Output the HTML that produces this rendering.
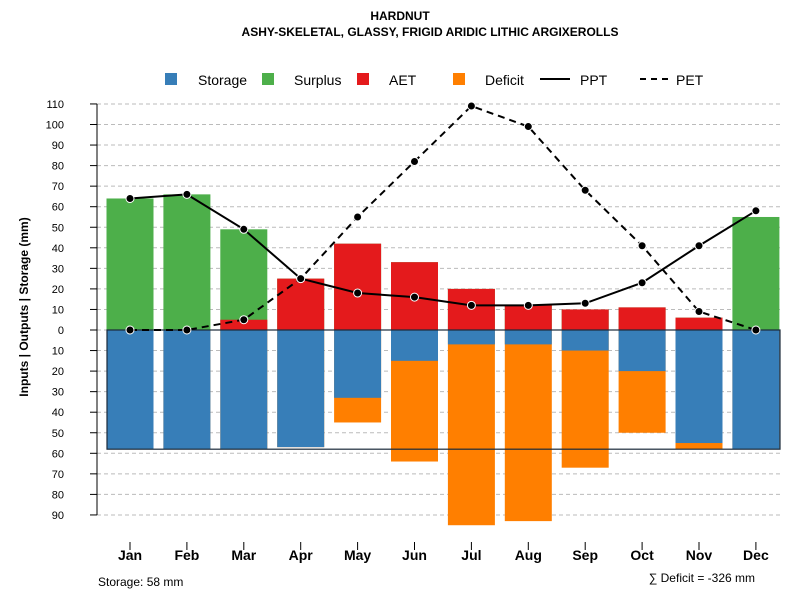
<!DOCTYPE html>
<html><head><meta charset="utf-8"><style>
body{margin:0;background:#fff}
svg{font-family:"Liberation Sans",sans-serif}
</style></head><body>
<svg id="c" width="800" height="600" xmlns="http://www.w3.org/2000/svg">
<text x="400" y="20" text-anchor="middle" font-size="12" font-weight="bold">HARDNUT</text>
<text x="430" y="36" text-anchor="middle" font-size="12" font-weight="bold">ASHY-SKELETAL, GLASSY, FRIGID ARIDIC LITHIC ARGIXEROLLS</text>
<g id="legend">
<rect x="165" y="73" width="12" height="12" fill="#377eb8"/>
<text x="198" y="85" font-size="14">Storage</text>
<rect x="262" y="73" width="12" height="12" fill="#4daf4a"/>
<text x="294" y="85" font-size="14">Surplus</text>
<rect x="357" y="73" width="12" height="12" fill="#e41a1c"/>
<text x="389" y="85" font-size="14">AET</text>
<rect x="453" y="73" width="12" height="12" fill="#ff7f00"/>
<text x="485" y="85" font-size="14">Deficit</text>
<line x1="540" y1="79" x2="570" y2="79" stroke="#000" stroke-width="2"/>
<text x="580" y="85" font-size="14">PPT</text>
<line x1="640" y1="79" x2="670" y2="79" stroke="#000" stroke-width="2" stroke-dasharray="6,5"/>
<text x="676" y="85" font-size="14">PET</text>
</g>
<text transform="translate(28,307) rotate(-90)" text-anchor="middle" font-size="12" font-weight="bold">Inputs | Outputs | Storage    (mm)</text>
<text x="98" y="586" font-size="12">Storage: 58 mm</text>
<text x="755" y="582" text-anchor="end" font-size="12">∑ Deficit = -326 mm</text>
<g id="plot"></g>
</svg>
<script>
const months=["Jan","Feb","Mar","Apr","May","Jun","Jul","Aug","Sep","Oct","Nov","Dec"];
const storage=[58,58,58,57,33,15,7,7,10,20,55,58];
const deficitBottom=[58,58,58,57,45,64,95,93,67,50,58,58];
const aet=[0,0,5,25,42,33,20,12,10,11,6,0];
const surplusTop=[64,66,49,25,42,33,20,12,10,11,6,55];
const ppt=[64,66,49,25,18,16,12,12,13,23,41,58];
const pet=[0,0,5,25,55,82,109,99,68,41,9,0];
const yTicks=[110,100,90,80,70,60,50,40,30,20,10,0,-10,-20,-30,-40,-50,-60,-70,-80,-90];
const NS="http://www.w3.org/2000/svg";
const g=document.getElementById('plot');
const y=v=>330-v*2.055;
const x=i=>130+i*56.9;
const bw=47;
function mk(t,a){const e=document.createElementNS(NS,t);for(const k in a)e.setAttribute(k,a[k]);g.appendChild(e);return e;}
yTicks.forEach(v=>{
 const l=mk('line',{x1:97,x2:780,y1:y(v),y2:y(v),stroke:'#bbb','stroke-dasharray':'4,3'});
 
 
 const t=mk('line',{x1:90,x2:97,y1:y(v),y2:y(v),stroke:'#000'});
 
 
 const tx=mk('text',{x:64,y:y(v)+4,'text-anchor':'end','font-size':11});
 tx.textContent=Math.abs(v);
 
 
});
const ax=mk('line',{x1:97,x2:97,y1:y(110),y2:y(-90),stroke:'#000'});


months.forEach((m,i)=>{
 const cx=x(i),l=cx-bw/2;
 const r1=mk('rect',{x:l,y:y(surplusTop[i]),width:bw,height:y(0)-y(surplusTop[i]),fill:'#4daf4a'});
 
 
 const r2=mk('rect',{x:l,y:y(aet[i]),width:bw,height:y(0)-y(aet[i]),fill:'#e41a1c'});
 
 
 const r3=mk('rect',{x:l,y:y(0),width:bw,height:y(-deficitBottom[i])-y(0),fill:'#ff7f00'});
 
 
 const r4=mk('rect',{x:l,y:y(0),width:bw,height:y(-storage[i])-y(0),fill:'#377eb8'});
 
 
 const tk=mk('line',{x1:cx,x2:cx,y1:542,y2:550,stroke:'#000'});
 
 
 const tl=mk('text',{x:cx,y:560,'text-anchor':'middle','font-size':14,'font-weight':'bold'});
 tl.textContent=m;
 
 
});
const box=mk('rect',{x:107,y:y(0),width:673,height:y(-58)-y(0),fill:'none',stroke:'#1a2a3a','stroke-width':1.2});


function series(arr,name,dash){
 const p=mk('polyline',{points:arr.map((v,i)=>x(i)+','+y(v)).join(' '),fill:'none',stroke:'#000','stroke-width':2});
 if(dash)p.setAttribute('stroke-dasharray','7,5');
 
 
 arr.forEach((v,i)=>{
  const c=mk('circle',{cx:x(i),cy:y(v),r:4,fill:'#000',stroke:'#fff','stroke-width':1});
  
  
 });
}
series(pet,'pet',true);
series(ppt,'ppt',false);
</script>
</body></html>
